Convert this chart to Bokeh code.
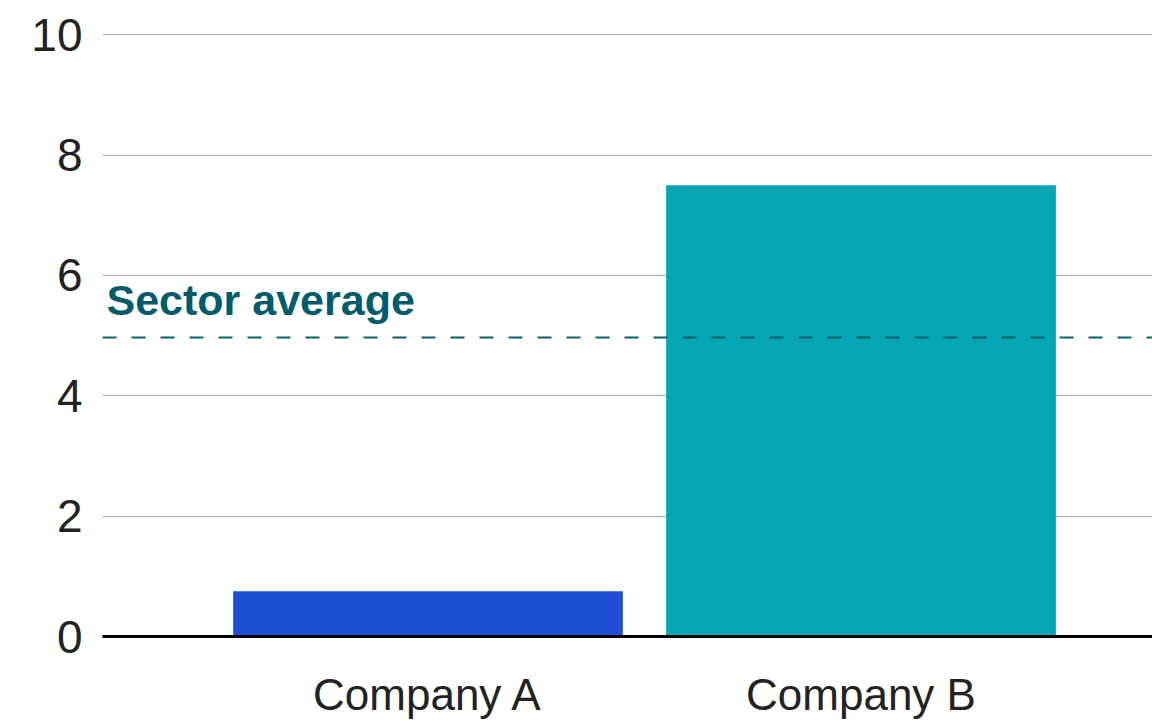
from bokeh.plotting import figure
from bokeh.models import Range1d, FixedTicker, Span, Label
from bokeh.embed import file_html
from bokeh.resources import INLINE

categories = ["Company A", "Company B"]
values = [0.75, 7.5]
colors = ["#1e4fd3", "#05a5b3"]
sector_average = 4.97
y_ticks = [0, 2, 4, 6, 8, 10]

xpos = [i + 0.5 for i in range(len(categories))]
x_start, x_end = -0.2517, 2.1732

p = figure(frame_width=1050, frame_height=603, output_backend="svg", toolbar_location=None,
           x_range=Range1d(x_start, x_end), y_range=Range1d(0, 10.02),
           min_border_left=102, min_border_right=0, min_border_top=33, min_border_bottom=0)
p.outline_line_color = None
p.background_fill_color = "white"
p.border_fill_color = "white"

p.vbar(x=xpos, top=values, width=0.9, bottom=0, color=colors, line_color=None)

p.xgrid.visible = False
p.ygrid.grid_line_color = "#aaaaaa"
p.ygrid.grid_line_width = 1
p.yaxis.ticker = FixedTicker(ticks=y_ticks)
p.yaxis.axis_line_color = None
p.yaxis.major_tick_line_color = None
p.yaxis.minor_tick_line_color = None
p.yaxis.major_tick_out = 0
p.yaxis.minor_tick_out = 0
p.yaxis.major_label_standoff = 20
p.yaxis.major_label_text_font = "Liberation Sans"
p.yaxis.major_label_text_font_size = "46px"
p.yaxis.major_label_text_color = "#222222"

p.xaxis.ticker = FixedTicker(ticks=xpos)
p.xaxis.major_label_overrides = {x: c for x, c in zip(xpos, categories)}
p.xaxis.axis_line_color = "black"
p.xaxis.axis_line_width = 3
p.xaxis.major_tick_line_color = None
p.xaxis.minor_tick_line_color = None
p.xaxis.major_tick_out = 0
p.xaxis.minor_tick_out = 0
p.xaxis.major_label_standoff = 33
p.xaxis.major_label_text_font = "Liberation Sans"
p.xaxis.major_label_text_font_size = "44px"
p.xaxis.major_label_text_color = "#222222"

p.add_layout(Span(location=sector_average, dimension="width", line_color="#0a5f6e",
                  line_width=2, line_dash="14 15"))
p.add_layout(Label(x=x_start, y=sector_average, x_offset=4, y_offset=37, text="Sector average",
                   text_font="Liberation Sans", text_font_style="bold", text_font_size="43px",
                   text_color="#005b6b", text_baseline="alphabetic"))

open("out.html", "w").write(file_html(p, INLINE))
